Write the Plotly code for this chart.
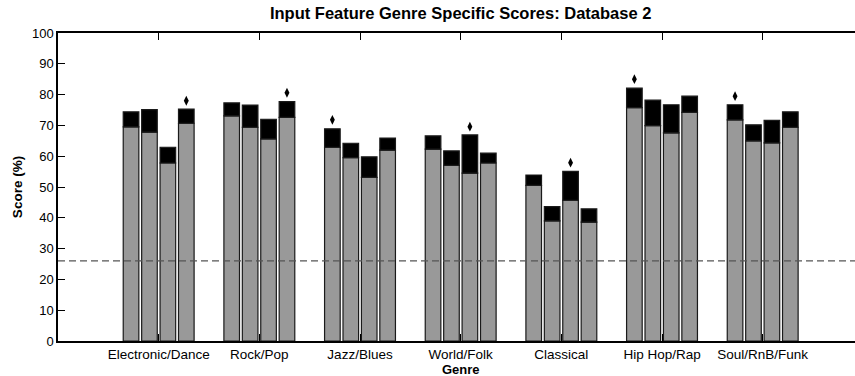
import plotly.graph_objects as go

# Genre categories and per-genre scores for the four input feature sets
genres = ["Electronic/Dance", "Rock/Pop", "Jazz/Blues", "World/Folk",
          "Classical", "Hip Hop/Rap", "Soul/RnB/Funk"]

# Lower (gray) part of each bar
base_scores = [
    [69.5, 67.8, 57.8, 70.7],
    [73.1, 69.4, 65.6, 72.6],
    [62.9, 59.5, 53.1, 62.0],
    [62.3, 57.0, 54.5, 57.8],
    [50.5, 39.0, 45.7, 38.6],
    [75.8, 69.9, 67.6, 74.2],
    [71.8, 65.0, 64.3, 69.4],
]

# Full height of each bar (gray + black)
total_scores = [
    [74.4, 75.1, 62.9, 75.3],
    [77.3, 76.6, 72.0, 77.7],
    [68.9, 64.2, 59.8, 65.9],
    [66.6, 61.7, 66.9, 61.0],
    [53.9, 43.6, 55.1, 42.9],
    [82.1, 78.2, 76.7, 79.5],
    [76.7, 70.2, 71.6, 74.4],
]

# Best feature set per genre (bar index) and its marker height
best_bar = [3, 3, 0, 2, 2, 0, 0]
best_marker = [78.0, 80.6, 71.8, 69.6, 57.9, 85.0, 79.5]

chance_level = 26.0
y_ticks = list(range(0, 101, 10))

pitch = 0.183
bar_w = 0.155
offsets = [(-1.5 + k) * pitch for k in range(4)]

xs, low, top_h, top_base = [], [], [], []
for g in range(len(genres)):
    for k in range(4):
        xs.append(g + 1 + offsets[k])
        low.append(base_scores[g][k])
        top_base.append(base_scores[g][k])
        top_h.append(total_scores[g][k] - base_scores[g][k])

mx = [g + 1 + offsets[best_bar[g]] for g in range(len(genres))]

fig = go.Figure()
fig.add_trace(go.Bar(
    x=xs, y=low, width=bar_w,
    marker=dict(color="#999999", line=dict(color="#1a1a1a", width=1.2)),
    hoverinfo="skip", showlegend=False))
fig.add_trace(go.Bar(
    x=xs, y=top_h, base=top_base, width=bar_w,
    marker=dict(color="#000000", line=dict(color="#1a1a1a", width=1.2)),
    hoverinfo="skip", showlegend=False))
fig.add_trace(go.Scatter(
    x=mx, y=best_marker, mode="markers",
    marker=dict(symbol="diamond-tall", size=7, color="black"),
    hoverinfo="skip", showlegend=False))
fig.add_trace(go.Scatter(
    x=[0, 8], y=[chance_level, chance_level], mode="lines",
    line=dict(color="#555555", width=1.2, dash="7px,4px"),
    hoverinfo="skip", showlegend=False))

font_family = "Liberation Sans, Arial, Helvetica, sans-serif"

# The axes box runs from x=0 to x=8; the visible part ends just short of 8,
# so centred texts are placed at x=4 in data terms.
x_max_visible = 797 / 100.67
center_frac = 4 / x_max_visible

fig.update_layout(
    width=855, height=376,
    margin=dict(l=58, r=0, t=33, b=35),
    paper_bgcolor="white", plot_bgcolor="white",
    barmode="overlay",
    font=dict(family=font_family, size=12, color="black"),
    title=dict(text="<b>Input Feature Genre Specific Scores: Database 2</b>",
               x=center_frac, xanchor="center", xref="paper",
               y=1 - 13 / 376, yanchor="middle", yref="container",
               font=dict(size=16.5, family=font_family)),
    xaxis=dict(
        range=[0, x_max_visible],
        tickmode="array", tickvals=list(range(1, len(genres) + 1)),
        ticktext=genres, ticks="inside", ticklen=7, tickcolor="black",
        showline=True, linecolor="black", linewidth=1.5, mirror="ticks",
        showgrid=False, zeroline=False,
        tickfont=dict(size=13.5),
    ),
    yaxis=dict(
        range=[0, 100], tickvals=y_ticks,
        ticks="inside", ticklen=7, tickcolor="black",
        showline=True, linecolor="black", linewidth=1.5,
        showgrid=False, zeroline=False,
        tickfont=dict(size=13),
        title=dict(text="<b>Score (%)</b>", font=dict(size=13.5), standoff=6),
    ),
    yaxis2=dict(
        overlaying="y", side="right", range=[0, 100], tickvals=y_ticks,
        ticks="inside", ticklen=2, tickcolor="black",
        showticklabels=False, showline=False, showgrid=False, zeroline=False,
    ),
    annotations=[dict(
        text="<b>Genre</b>", x=4, xref="x", y=0, yref="paper",
        yshift=-28, xanchor="center", yanchor="middle", showarrow=False,
        font=dict(size=13, family=font_family))],
)

fig.write_html("out.html")
